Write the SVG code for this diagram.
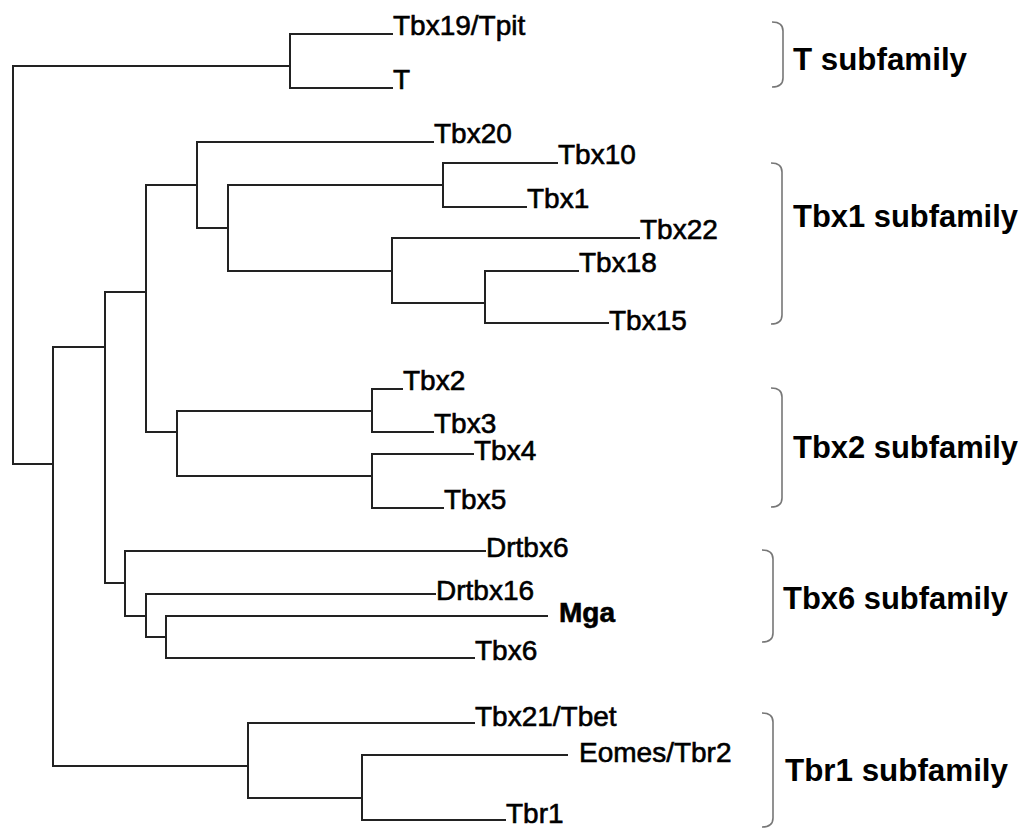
<svg xmlns="http://www.w3.org/2000/svg" width="1025" height="828" viewBox="0 0 1025 828">
  <style>
    .br { fill: none; stroke: #222; stroke-width: 2; stroke-linecap: square; }
    .brace { fill: none; stroke: #777; stroke-width: 1.6; }
    .leaf { font-family: "Liberation Sans", Arial, sans-serif; font-size: 28px; fill: #000; stroke: #000; stroke-width: 0.6; }
    .grp { font-family: "Liberation Sans", Arial, sans-serif; font-size: 31px; font-weight: bold; fill: #000; }
  </style>
  <rect width="1025" height="828" fill="#fff"/>

  <!-- tree branches -->
  <g id="connectors">
    <!-- root -->
    <path class="br" d="M290,66 H13 V464 H53"/>
    <!-- T subfamily clade -->
    <path class="br" d="M392,34 H290 V88 H392"/>
    <!-- node A -->
    <path class="br" d="M105,347 H53 V766 H248"/>
    <!-- node B -->
    <path class="br" d="M146,292 H105 V583 H125"/>
    <!-- node C -->
    <path class="br" d="M197,185 H146 V432 H177"/>
    <!-- node D -->
    <path class="br" d="M433,142 H197 V228 H228"/>
    <!-- node E -->
    <path class="br" d="M443,185 H228 V271 H392"/>
    <!-- Tbx10 / Tbx1 -->
    <path class="br" d="M557,163 H443 V207 H526"/>
    <!-- node G -->
    <path class="br" d="M639,238 H392 V303 H485"/>
    <!-- Tbx18 / Tbx15 -->
    <path class="br" d="M578,271 H485 V323 H608"/>
    <!-- Tbx2 subfamily -->
    <path class="br" d="M372,411 H177 V476 H372"/>
    <path class="br" d="M402,389 H372 V432 H433"/>
    <path class="br" d="M473,454 H372 V508 H443"/>
    <!-- Tbx6 subfamily -->
    <path class="br" d="M485,551 H125 V616 H146"/>
    <path class="br" d="M435,594 H146 V637 H166"/>
    <path class="br" d="M547,616 H166 V658 H474"/>
    <!-- Tbr1 subfamily -->
    <path class="br" d="M474,723 H248 V798 H362"/>
    <path class="br" d="M567,755 H362 V820 H505"/>
  </g>

  <!-- leaves -->
  <g id="leaf-tbx19"><text class="leaf" x="393" y="35">Tbx19/Tpit</text></g>
  <g id="leaf-t"><text class="leaf" x="393" y="89">T</text></g>
  <g id="leaf-tbx20"><text class="leaf" x="434" y="143">Tbx20</text></g>
  <g id="leaf-tbx10"><text class="leaf" x="558" y="164">Tbx10</text></g>
  <g id="leaf-tbx1"><text class="leaf" x="527" y="208">Tbx1</text></g>
  <g id="leaf-tbx22"><text class="leaf" x="640" y="239">Tbx22</text></g>
  <g id="leaf-tbx18"><text class="leaf" x="579" y="272">Tbx18</text></g>
  <g id="leaf-tbx15"><text class="leaf" x="609" y="330">Tbx15</text></g>
  <g id="leaf-tbx2"><text class="leaf" x="403" y="390">Tbx2</text></g>
  <g id="leaf-tbx3"><text class="leaf" x="434" y="433">Tbx3</text></g>
  <g id="leaf-tbx4"><text class="leaf" x="474" y="460">Tbx4</text></g>
  <g id="leaf-tbx5"><text class="leaf" x="444" y="509">Tbx5</text></g>
  <g id="leaf-drtbx6"><text class="leaf" x="486" y="557">Drtbx6</text></g>
  <g id="leaf-drtbx16"><text class="leaf" x="436" y="600">Drtbx16</text></g>
  <g id="leaf-mga"><text class="leaf" x="559" y="622" font-weight="bold" font-size="27" stroke-width="0">Mga</text></g>
  <g id="leaf-tbx6"><text class="leaf" x="475" y="660">Tbx6</text></g>
  <g id="leaf-tbx21"><text class="leaf" x="475" y="726">Tbx21/Tbet</text></g>
  <g id="leaf-eomes"><text class="leaf" x="579" y="762">Eomes/Tbr2</text></g>
  <g id="leaf-tbr1"><text class="leaf" x="506" y="823">Tbr1</text></g>

  <!-- subfamily brackets and labels -->
  <g id="group-t">
    <path class="brace" d="M772,22 Q783,22 783,31 V78 Q783,87 772,87"/>
    <text class="grp" x="793" y="70" textLength="174" lengthAdjust="spacingAndGlyphs">T subfamily</text>
  </g>
  <g id="group-tbx1">
    <path class="brace" d="M771,163 Q782,163 782,172 V315 Q782,324 771,324"/>
    <text class="grp" x="793" y="227" textLength="225" lengthAdjust="spacingAndGlyphs">Tbx1 subfamily</text>
  </g>
  <g id="group-tbx2">
    <path class="brace" d="M771,388 Q782,388 782,397 V498 Q782,507 771,507"/>
    <text class="grp" x="793" y="458" textLength="225" lengthAdjust="spacingAndGlyphs">Tbx2 subfamily</text>
  </g>
  <g id="group-tbx6">
    <path class="brace" d="M762,550 Q773,550 773,559 V633 Q773,642 762,642"/>
    <text class="grp" x="783" y="609" textLength="225" lengthAdjust="spacingAndGlyphs">Tbx6 subfamily</text>
  </g>
  <g id="group-tbr1">
    <path class="brace" d="M762,713 Q773,713 773,722 V818 Q773,827 762,827"/>
    <text class="grp" x="785" y="781" textLength="223" lengthAdjust="spacingAndGlyphs">Tbr1 subfamily</text>
  </g>
</svg>
